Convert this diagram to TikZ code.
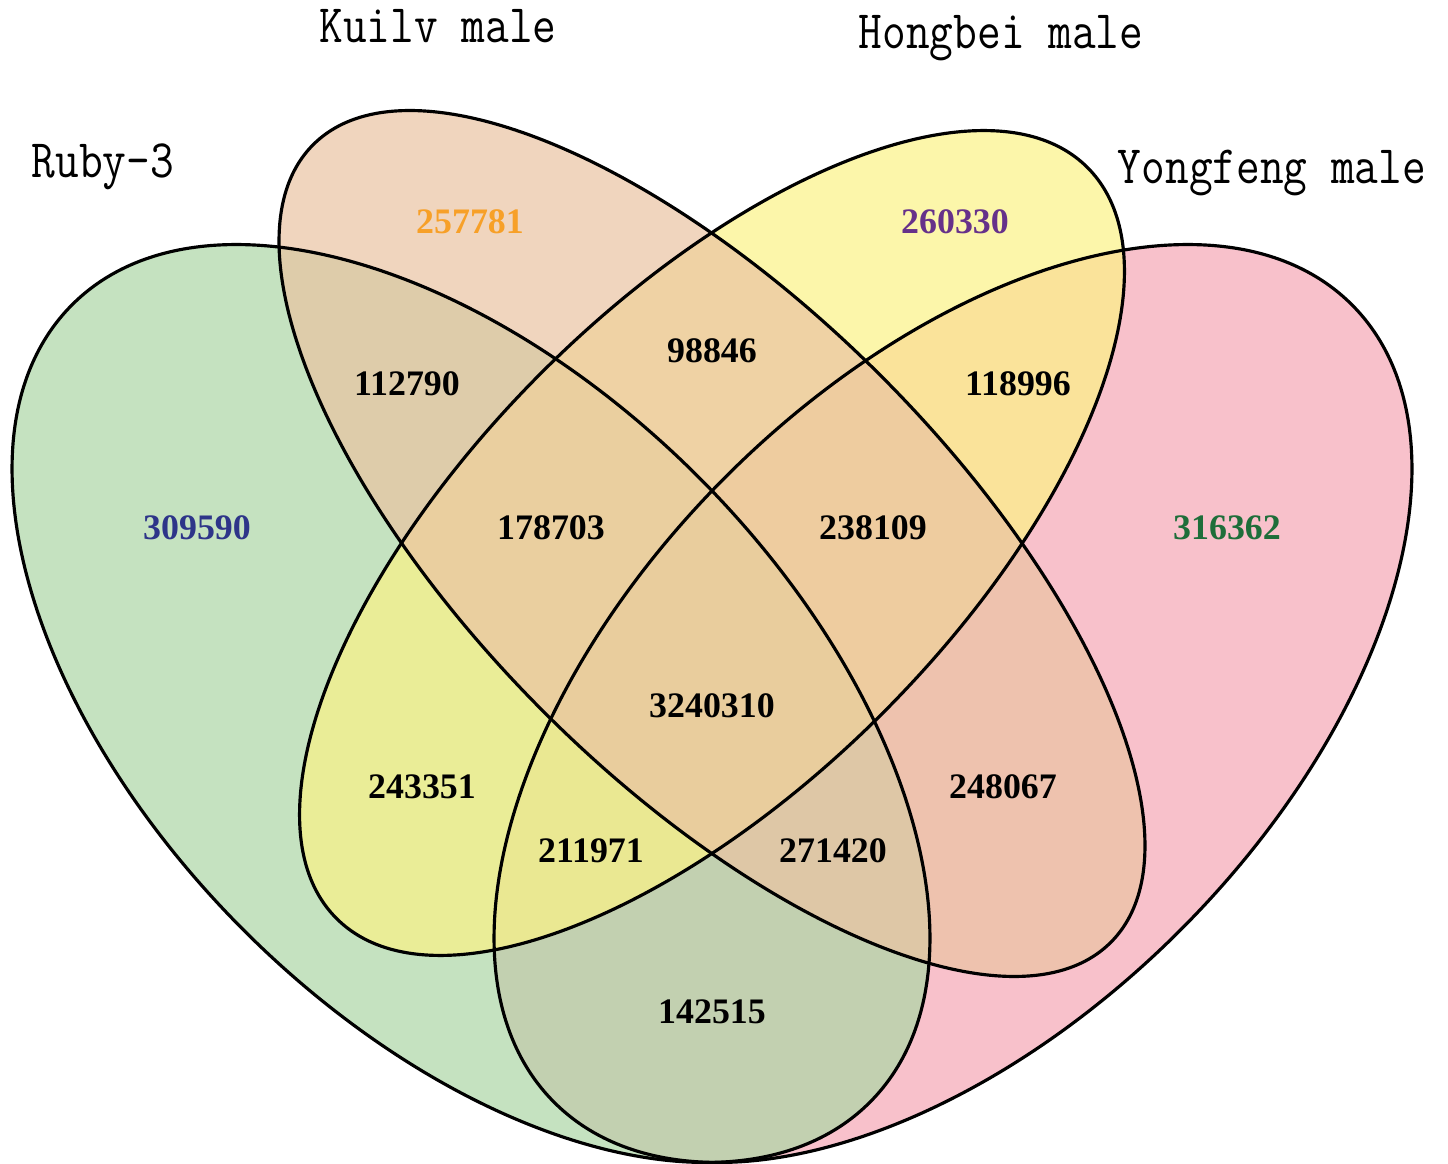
\documentclass[tikz,border=0pt]{standalone}
\usepackage{fontspec}
\usepackage{graphicx}
\setmainfont{Liberation Serif}
\newcommand{\lab}[1]{\scalebox{0.85}[1]{\ttfamily\fontsize{15.4}{17}\selectfont #1}}
\definecolor{cpink}{RGB}{245,166,181}
\definecolor{cgreen}{RGB}{172,214,165}
\definecolor{cyellow}{RGB}{251,242,134}
\definecolor{corange}{RGB}{234,195,162}
\definecolor{tOrange}{RGB}{247,160,40}
\definecolor{tPurple}{RGB}{102,49,138}
\definecolor{tNavy}{RGB}{46,53,137}
\definecolor{tGreen}{RGB}{30,110,58}
\tikzset{
  setfill/.style={fill=#1, fill opacity=0.7, draw=none},
  setline/.style={draw=black, line width=0.9pt},
  setlabel/.style={anchor=base, inner sep=0pt},
  num/.style={font=\bfseries\fontsize{10.2}{12}\selectfont, inner sep=0pt, anchor=center}
}
\begin{document}
\begin{tikzpicture}[x=0.01cm,y=-0.01cm]
\useasboundingbox (0,0) rectangle (1448,1164);
% fills (bottom to top)
\fill[setfill=cpink, shift={(953,703.5)}, rotate=45] (0,0) ellipse [x radius=564, y radius=321];
\fill[setfill=cgreen, shift={(471,703.5)}, rotate=-45] (0,0) ellipse [x radius=564, y radius=321];
\fill[setfill=cyellow, shift={(712,543)}, rotate=45] (0,0) ellipse [x radius=531, y radius=241];
\fill[setfill=corange, shift={(712,543.5)}, rotate=-45] (0,0) ellipse [x radius=564, y radius=238];
% outlines
\draw[setline, shift={(953,703.5)}, rotate=45] (0,0) ellipse [x radius=564, y radius=321];
\draw[setline, shift={(471,703.5)}, rotate=-45] (0,0) ellipse [x radius=564, y radius=321];
\draw[setline, shift={(712,543)}, rotate=45] (0,0) ellipse [x radius=531, y radius=241];
\draw[setline, shift={(712,543.5)}, rotate=-45] (0,0) ellipse [x radius=564, y radius=238];
% set labels
\node[setlabel] (lruby) at (103,178) {\lab{Ruby-3}};
\node[setlabel] (lkuilv) at (438,43) {\lab{Kuilv male}};
\node[setlabel] (lhong) at (1001,49) {\lab{Hongbei male}};
\node[setlabel] (lyong) at (1272,184) {\lab{Yongfeng male}};
% counts
\node[num, text=tOrange] (n1) at (470,222) {257781};
\node[num, text=tPurple] (n2) at (955,222) {260330};
\node[num, text=tNavy] (n3) at (197,528) {309590};
\node[num, text=tGreen] (n4) at (1227,528) {316362};
\node[num] (n5) at (407,384) {112790};
\node[num] (n6) at (712,351) {98846};
\node[num] (n7) at (1018,384) {118996};
\node[num] (n8) at (551,528) {178703};
\node[num] (n9) at (873,528) {238109};
\node[num] (n10) at (712,706) {3240310};
\node[num] (n11) at (422,787) {243351};
\node[num] (n12) at (1003,787) {248067};
\node[num] (n13) at (591,851) {211971};
\node[num] (n14) at (833,851) {271420};
\node[num] (n15) at (712,1012) {142515};
\end{tikzpicture}
\end{document}
